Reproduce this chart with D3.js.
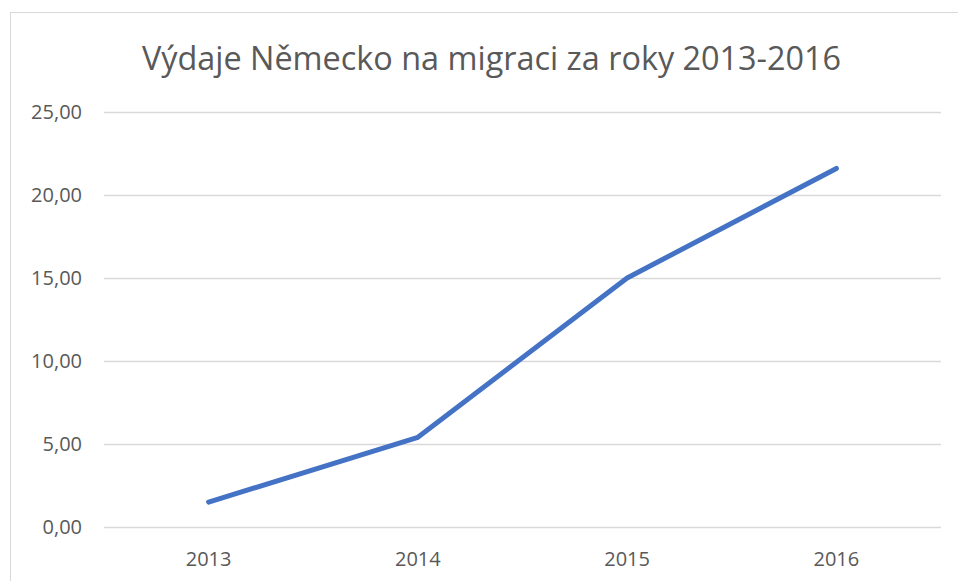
<!DOCTYPE html>
<html>
<head>
<meta charset="utf-8">
<script src="https://cdn.jsdelivr.net/npm/d3@7"></script>
<style>
  body { margin: 0; background: #fff; }
  svg text { font-family: "Open Sans", sans-serif; fill: #595959; }
</style>
</head>
<body>
<script>
const years = ["2013", "2014", "2015", "2016"];
const spending = [1.5, 5.4, 15.0, 21.6];
const yTicks = [0, 5, 10, 15, 20, 25];
const title = "Výdaje Německo na migraci za roky 2013-2016";

const W = 958, H = 581;
const plot = { left: 104, right: 941, top: 112, bottom: 527 };

const svg = d3.select("body").append("svg")
  .attr("width", W)
  .attr("height", H);

// chart frame
svg.append("rect")
  .attr("x", 10.5).attr("y", 12.5)
  .attr("width", 960).attr("height", 600)
  .attr("fill", "#fff")
  .attr("stroke", "#d9d9d9");

const x = d3.scaleBand().domain(years).range([plot.left, plot.right]);
const y = d3.scaleLinear().domain([0, 25]).range([plot.bottom, plot.top]);

// gridlines
svg.append("g")
  .selectAll("line")
  .data(yTicks)
  .join("line")
  .attr("x1", plot.left).attr("x2", plot.right)
  .attr("y1", d => Math.round(y(d)) + 0.5)
  .attr("y2", d => Math.round(y(d)) + 0.5)
  .attr("stroke", "#d9d9d9")
  .attr("stroke-width", 1.3);

// y labels
const fmt = d => d.toFixed(2).replace(".", ",");
svg.append("g")
  .selectAll("text")
  .data(yTicks)
  .join("text")
  .attr("x", 82)
  .attr("y", d => y(d))
  .attr("dy", "0.35em")
  .attr("text-anchor", "end")
  .attr("font-size", 20)
  .text(fmt);

// x labels
svg.append("g")
  .selectAll("text")
  .data(years)
  .join("text")
  .attr("x", d => x(d) + x.bandwidth() / 2)
  .attr("y", 566)
  .attr("text-anchor", "middle")
  .attr("font-size", 20)
  .text(d => d);

// line
const line = d3.line()
  .x((d, i) => x(years[i]) + x.bandwidth() / 2)
  .y(d => y(d));

svg.append("path")
  .datum(spending)
  .attr("fill", "none")
  .attr("stroke", "#4472c4")
  .attr("stroke-width", 5)
  .attr("stroke-linecap", "round")
  .attr("stroke-linejoin", "round")
  .attr("d", line);

// title
svg.append("text")
  .attr("x", 491.5)
  .attr("y", 70)
  .attr("text-anchor", "middle")
  .attr("font-size", 32.4)
  .text(title);
</script>
</body>
</html>
